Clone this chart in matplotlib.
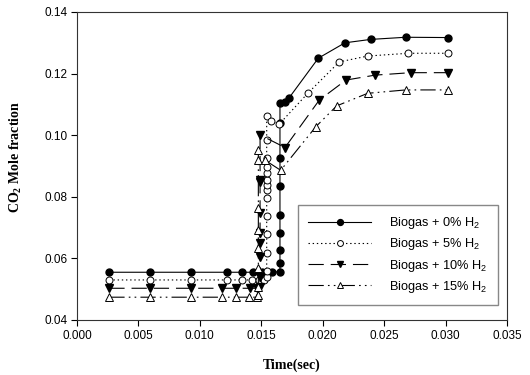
#!/usr/bin/env python3
# co2_mole_fraction.py — CO2 mole fraction vs time for biogas/H2 blends

import matplotlib
matplotlib.use("Agg")
import matplotlib.pyplot as plt

plt.rcParams["font.family"] = ["Liberation Sans", "DejaVu Sans"]
plt.rcParams["mathtext.default"] = "regular"
plt.rcParams["lines.scale_dashes"] = False

# --- data ---
t_h0 = [0.00263, 0.00594, 0.00925, 0.01218, 0.0134, 0.0143, 0.01503, 0.01585,
        0.01652, 0.01652, 0.01652, 0.01652, 0.01652, 0.01652, 0.01652, 0.01652,
        0.01652, 0.01693, 0.01726, 0.01964, 0.02181, 0.0239, 0.02675, 0.0302]
co2_h0 = [0.0555, 0.0555, 0.0555, 0.0555, 0.0555, 0.0555, 0.0555, 0.0555,
          0.0557, 0.0584, 0.0627, 0.0681, 0.0741, 0.0836, 0.0925, 0.1041,
          0.1103, 0.1109, 0.1121, 0.1250, 0.1300, 0.1311, 0.1318, 0.1317]

t_h5 = [0.00263, 0.00594, 0.00925, 0.01218, 0.0134, 0.01422, 0.01484, 0.01522,
        0.01544, 0.01544, 0.01544, 0.01544, 0.01544, 0.01544, 0.01544, 0.01544,
        0.01544, 0.01544, 0.01544, 0.01544, 0.01544, 0.01544,
        0.01577, 0.01644, 0.01883, 0.02135, 0.02366, 0.02697, 0.0302]
co2_h5 = [0.0530, 0.0530, 0.0530, 0.0530, 0.0530, 0.0530, 0.0530, 0.0530,
          0.0541, 0.0560, 0.0617, 0.0678, 0.0738, 0.0795, 0.0822, 0.0838,
          0.0855, 0.0876, 0.0898, 0.0925, 0.0984, 0.1062,
          0.1047, 0.1035, 0.1138, 0.1238, 0.1257, 0.1266, 0.1266]

t_h10 = [0.00263, 0.00594, 0.00925, 0.01178, 0.01292, 0.01408, 0.01463,
         0.0149, 0.0149, 0.0149, 0.0149, 0.0149, 0.0149, 0.0149, 0.0149,
         0.0149, 0.01693, 0.01972, 0.02189, 0.02426, 0.02716, 0.0302]
co2_h10 = [0.0503, 0.0503, 0.0503, 0.0503, 0.0503, 0.0503, 0.0503,
           0.0508, 0.0541, 0.0606, 0.0649, 0.0681, 0.0746, 0.0849, 0.0855,
           0.1001, 0.0960, 0.1114, 0.1179, 0.1195, 0.1203, 0.1203]

t_h15 = [0.00263, 0.00594, 0.00925, 0.01178, 0.01292, 0.0140, 0.01463,
         0.01476, 0.01476, 0.01476, 0.01476, 0.01476, 0.01476, 0.01476, 0.01476,
         0.0153, 0.01658, 0.01945, 0.02113, 0.02366, 0.02675, 0.0302]
co2_h15 = [0.0474, 0.0474, 0.0474, 0.0474, 0.0474, 0.0474, 0.0474,
           0.0481, 0.0508, 0.0568, 0.0633, 0.0692, 0.0762, 0.0919, 0.0952,
           0.0919, 0.0886, 0.1028, 0.1095, 0.1136, 0.1147, 0.1147]

labels = ["Biogas + 0% H$_2$", "Biogas + 5% H$_2$",
          "Biogas + 10% H$_2$", "Biogas + 15% H$_2$"]

fig = plt.figure(figsize=(5.3, 3.75), dpi=100)
ax = fig.add_axes([0.1453, 0.1467, 0.8113, 0.8213])

lw = 0.8
ms = 5.0
ax.plot(t_h0, co2_h0, color="black", lw=lw, ls="-", marker="o", ms=ms,
        mfc="black", mec="black", label=labels[0])
ax.plot(t_h5, co2_h5, color="black", lw=lw, ls=(0, (1, 2)), marker="o", ms=ms,
        mfc="white", mec="black", mew=0.7, label=labels[1])
ax.plot(t_h10, co2_h10, color="black", lw=lw, ls=(0, (11, 5)), marker="v",
        ms=ms + 0.6, mfc="black", mec="black", label=labels[2])
ax.plot(t_h15, co2_h15, color="black", lw=lw, ls=(0, (11, 3, 1.2, 3, 1.2, 3)),
        marker="^", ms=ms + 0.6, mfc="white", mec="black", mew=0.7,
        label=labels[3])

ax.set_xlim(0.0, 0.035)
ax.set_ylim(0.04, 0.14)
ax.set_xticks([0.000, 0.005, 0.010, 0.015, 0.020, 0.025, 0.030, 0.035])
ax.set_yticks([0.04, 0.06, 0.08, 0.10, 0.12, 0.14])
ax.xaxis.set_major_formatter(plt.FormatStrFormatter("%.3f"))
ax.yaxis.set_major_formatter(plt.FormatStrFormatter("%.2f"))
ax.tick_params(direction="out", length=4, width=0.8, labelsize=8.5, pad=3)
for s in ax.spines.values():
    s.set_linewidth(0.8)
    s.set_color("#333333")

ax.set_xlabel("Time(sec)", family=["Liberation Serif", "DejaVu Serif"],
              fontweight="bold", fontsize=10, labelpad=12)
ax.set_ylabel("CO$_2$ Mole fraction", family=["Liberation Serif", "DejaVu Serif"],
              fontweight="bold", fontsize=10)
ax.yaxis.set_label_coords(-0.123, 0.53)

leg = ax.legend(loc="lower right", bbox_to_anchor=(0.978, 0.049), fontsize=9.2,
                handlelength=4.9, numpoints=1, fancybox=False, framealpha=1,
                edgecolor="#888888", labelspacing=0.4, borderpad=0.8,
                handletextpad=1.4, borderaxespad=0.0, markerscale=0.85)
leg.get_frame().set_linewidth(1.0)

plt.savefig("out.png", dpi=100)
# plt.show()
